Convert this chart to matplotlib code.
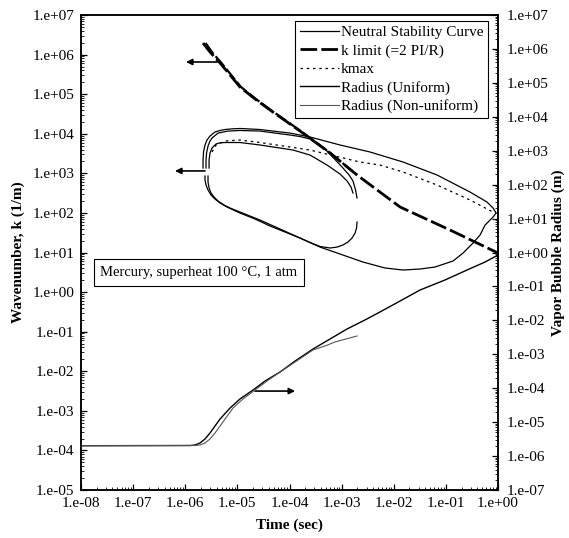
import math
import matplotlib
matplotlib.use("Agg")
import matplotlib.pyplot as plt
from matplotlib.ticker import LogLocator, FuncFormatter, NullFormatter

plt.rcParams['font.family'] = ['Liberation Serif', 'DejaVu Serif']

# --- data (time in s, k in 1/m, R in m) ---

# neutral stability curve, uniform case (upper and lower branch)
neu_u_up_t = [2.19e-6, 2.19e-6, 2.24e-6, 2.39e-6, 2.61e-6, 2.98e-6, 3.72e-6, 4.65e-6, 5.79e-6,
              7.89e-6, 1.12e-5, 2.72e-5, 1.02e-4, 2.47e-4, 9.31e-4, 3.50e-3, 1.51e-2, 6.76e-2,
              2.90e-1, 6.15e-1, 8.02e-1, 9.16e-1]
neu_u_up_k = [1.36e3, 2.17e3, 3.46e3, 5.20e3, 6.95e3, 8.77e3, 1.11e4, 1.21e4, 1.28e4,
              1.33e4, 1.36e4, 1.28e4, 1.04e4, 8.28e3, 5.20e3, 3.46e3, 1.93e3, 908,
              337, 188, 133, 99.3]
neu_u_lo_t = [9.16e-1, 8.02e-1, 5.64e-1, 4.52e-1, 3.31e-1, 2.13e-1, 1.37e-1, 6.18e-2, 3.19e-2,
              1.51e-2, 6.79e-3, 2.57e-3, 9.31e-4, 3.85e-4, 1.59e-4, 8.20e-5, 4.23e-5, 2.18e-5,
              1.12e-5, 6.32e-6, 4.65e-6, 3.72e-6, 3.12e-6, 2.73e-6, 2.50e-6, 2.39e-6, 2.39e-6]
neu_u_lo_k = [99.3, 78.7, 49.4, 27.7, 17.3, 9.70, 6.10, 4.30, 3.83,
              3.61, 4.06, 5.74, 9.16, 13.7, 23.2, 32.9, 46.7, 70.1,
              99.3, 141, 178, 224, 283, 379, 507, 678, 855]

# neutral stability curve, non-uniform case
neu_n_up_t = [2.50e-6, 2.50e-6, 2.56e-6, 2.73e-6, 2.98e-6, 3.26e-6, 4.25e-6, 6.61e-6, 1.12e-5,
              2.72e-5, 1.02e-4, 1.59e-4, 2.47e-4, 3.52e-4, 5.24e-4, 7.46e-4, 1.06e-3, 1.39e-3,
              1.65e-3, 1.85e-3, 1.97e-3]
neu_n_up_k = [1.36e3, 2.17e3, 3.26e3, 4.90e3, 6.56e3, 7.80e3, 1.04e4, 1.17e4, 1.21e4,
              1.17e4, 9.29e3, 8.51e3, 7.36e3, 5.66e3, 3.66e3, 2.23e3, 1.36e3, 908,
              640, 379, 238]
neu_n_lo_t = [2.73e-6, 2.73e-6, 2.86e-6, 3.12e-6, 3.56e-6, 4.25e-6, 5.53e-6, 7.23e-6, 1.40e-5,
              2.72e-5, 6.58e-5, 1.59e-4, 2.47e-4, 3.85e-4, 5.98e-4, 8.15e-4, 1.06e-3, 1.32e-3,
              1.58e-3, 1.81e-3, 1.93e-3, 1.97e-3]
neu_n_lo_k = [855, 604, 426, 318, 252, 200, 158, 133, 93.8,
              66.1, 39.2, 23.2, 17.9, 14.2, 13.0, 13.7, 15.5, 18.4,
              23.2, 31.0, 41.5, 58.9]

# inner solid curve (non-uniform case)
inner_t = [2.86e-6, 2.86e-6, 2.98e-6, 3.26e-6, 3.89e-6, 4.65e-6, 5.79e-6, 1.12e-5, 2.72e-5,
           1.17e-4, 2.47e-4, 5.24e-4, 9.31e-4, 1.27e-3, 1.51e-3, 1.65e-3]
inner_k = [1.36e3, 2.17e3, 3.26e3, 4.37e3, 5.51e3, 5.90e3, 6.01e3, 6.01e3, 5.20e3,
           3.88e3, 2.90e3, 1.62e3, 962, 640, 451, 318]

# kmax
kmax_t = [3.26e-6, 3.89e-6, 5.79e-6, 1.12e-5, 2.72e-5, 2.47e-4, 2.25e-3, 5.44e-3, 1.51e-2,
          6.76e-2, 2.90e-1, 8.02e-1]
kmax_k = [3.46e3, 5.20e3, 6.56e3, 6.95e3, 6.01e3, 3.88e3, 1.93e3, 1.62e3, 1.08e3,
          507, 212, 105]

# k limit (=2 PI/R)
klim_u_t = [2.19e-6, 2.98e-6, 4.65e-6, 7.23e-6, 1.12e-5, 2.18e-5, 4.23e-5, 1.59e-4, 5.98e-4,
            1.97e-3, 1.32e-2, 1.20e-1, 1.0]
klim_u_k = [1.96e6, 1.16e6, 6.12e5, 3.05e5, 1.52e5, 7.55e4, 3.98e4, 1.17e4, 3.26e3,
            908, 141, 37.0, 9.70]
klim_n_t = [2.45e-6, 3.25e-6, 4.95e-6, 7.60e-6, 1.17e-5, 2.25e-5, 4.35e-5, 1.63e-4, 6.05e-4,
            1.95e-3]
klim_n_k = [1.96e6, 1.16e6, 6.12e5, 3.05e5, 1.52e5, 7.60e4, 4.00e4, 1.18e4, 3.28e3, 920]

# bubble radius
rad_u_t = [1e-8, 1.23e-6, 1.54e-6, 1.92e-6, 2.39e-6, 2.98e-6, 3.72e-6, 4.65e-6, 7.23e-6,
           1.12e-5, 2.00e-5, 3.39e-5, 6.58e-5, 1.28e-4, 2.82e-4, 5.98e-4, 1.27e-3, 2.81e-3,
           5.44e-3, 1.32e-2, 3.19e-2, 9.61e-2, 2.54e-1, 5.64e-1, 1.0]
rad_u_r = [2.02e-6, 2.05e-6, 2.12e-6, 2.43e-6, 3.19e-6, 4.79e-6, 7.71e-6, 1.24e-5, 2.61e-5,
           4.82e-5, 8.87e-5, 1.63e-4, 3.01e-4, 6.35e-4, 1.43e-3, 2.82e-3, 5.57e-3, 1.03e-2,
           1.77e-2, 3.72e-2, 7.85e-2, 1.55e-1, 3.05e-1, 5.25e-1, 8.45e-1]
rad_n_t = [1e-8, 1.54e-6, 1.92e-6, 2.39e-6, 2.98e-6, 3.72e-6, 4.65e-6, 5.79e-6, 8.24e-6,
           1.28e-5, 2.18e-5, 3.70e-5, 6.58e-5, 1.28e-4, 2.82e-4, 4.80e-4, 7.46e-4, 1.97e-3]
rad_n_r = [2.02e-6, 2.05e-6, 2.12e-6, 2.43e-6, 3.19e-6, 4.79e-6, 7.71e-6, 1.24e-5, 2.61e-5,
           4.82e-5, 8.87e-5, 1.63e-4, 3.01e-4, 5.93e-4, 1.34e-3, 1.76e-3, 2.31e-3, 3.46e-3]


def sci_label(v, pos):
    if v <= 0:
        return ''
    e = int(round(math.log10(v)))
    return "1.e%+03d" % e


fig = plt.figure(figsize=(5.69, 5.38), dpi=100)
ax = fig.add_axes([0.1424, 0.0892, 0.7329, 0.8829])
ax2 = ax.twinx()

lw_thin = 0.9
dash = (0, (6, 1.5))
dot = (0, (2, 3))
FS = 11

# left axis: wavenumber curves
ln_neu, = ax.plot(neu_u_up_t, neu_u_up_k, color='k', lw=lw_thin)
ax.plot(neu_u_lo_t, neu_u_lo_k, color='k', lw=lw_thin)
ax.plot(neu_n_up_t, neu_n_up_k, color='k', lw=lw_thin)
ax.plot(neu_n_lo_t, neu_n_lo_k, color='k', lw=lw_thin)
ax.plot(inner_t, inner_k, color='k', lw=lw_thin)
ln_kmax, = ax.plot(kmax_t, kmax_k, color='k', lw=lw_thin, linestyle=dot)
ln_klim, = ax.plot(klim_u_t, klim_u_k, color='k', lw=2.0, linestyle=dash)
ax.plot(klim_n_t, klim_n_k, color='k', lw=1.6, linestyle=dash)

# right axis: radius
ln_ru, = ax2.plot(rad_u_t, rad_u_r, color='k', lw=1.0)
ln_rn, = ax2.plot(rad_n_t, rad_n_r, color='#555555', lw=0.8)

for a in (ax, ax2):
    a.set_xscale('log')
    a.set_yscale('log')
ax.set_xlim(1e-8, 1.0)
ax.set_ylim(1e-5, 1e7)
ax2.set_ylim(1e-7, 1e7)

major = lambda: LogLocator(base=10, numticks=30)
minor = lambda: LogLocator(base=10, subs=range(2, 10), numticks=200)
ax.xaxis.set_major_locator(major())
ax.xaxis.set_minor_locator(minor())
ax.yaxis.set_major_locator(major())
ax.yaxis.set_minor_locator(minor())
ax2.yaxis.set_major_locator(major())
ax2.yaxis.set_minor_locator(minor())
fmt = FuncFormatter(sci_label)
ax.xaxis.set_major_formatter(fmt)
ax.yaxis.set_major_formatter(fmt)
ax2.yaxis.set_major_formatter(fmt)
for a in (ax, ax2):
    a.xaxis.set_minor_formatter(NullFormatter())
    a.yaxis.set_minor_formatter(NullFormatter())

ax.tick_params(which='both', direction='in', top=False, right=False, labelsize=FS)
ax.tick_params(which='major', length=4, width=0.9)
ax.tick_params(which='minor', length=2, width=0.6)
ax.tick_params(axis='y', pad=5)
ax.tick_params(axis='x', pad=5)
ax2.tick_params(which='both', direction='in', labelsize=FS)
ax2.tick_params(which='major', length=4, width=0.9, pad=6)
ax2.tick_params(which='minor', length=2, width=0.6)

for a in (ax, ax2):
    for s in a.spines.values():
        s.set_linewidth(1.1)

ax.set_xlabel('Time (sec)', fontsize=FS, fontweight='bold', labelpad=6)
ax.set_ylabel('Wavenumber, k (1/m)', fontsize=FS, fontweight='bold', labelpad=5)
ax2.set_ylabel('Vapor Bubble Radius (m)', fontsize=FS, fontweight='bold', labelpad=2)

# arrows pointing to the axis each curve belongs to
arrow = dict(arrowstyle='-|>', color='k', lw=1.2, mutation_scale=9, shrinkA=0, shrinkB=0)
ax.annotate('', xy=(1.03e-6, 6.5e5), xytext=(4.25e-6, 6.5e5), arrowprops=arrow)
ax.annotate('', xy=(6.35e-7, 1.15e3), xytext=(2.39e-6, 1.15e3), arrowprops=arrow)
ax.annotate('', xy=(1.28e-4, 3.16e-3), xytext=(2.18e-5, 3.16e-3), arrowprops=arrow)

ax.text(0.282, 0.458, 'Mercury, superheat 100 \u00b0C, 1 atm', transform=ax.transAxes,
        ha='center', va='center', fontsize=10.5,
        bbox=dict(boxstyle='square,pad=0.45', fc='white', ec='k', lw=0.8))

leg = ax2.legend([ln_neu, ln_klim, ln_kmax, ln_ru, ln_rn],
                 ['Neutral Stability Curve', 'k limit (=2 PI/R)', 'kmax',
                  'Radius (Uniform)', 'Radius (Non-uniform)'],
                 loc='upper right', bbox_to_anchor=(0.976, 0.987), borderaxespad=0,
                 fontsize=FS, fancybox=False, framealpha=1, edgecolor='k',
                 handlelength=2.6, handletextpad=0.1, labelspacing=0.3, borderpad=0.3)
leg.get_frame().set_linewidth(0.8)

fig.savefig('out.png', dpi=100)
